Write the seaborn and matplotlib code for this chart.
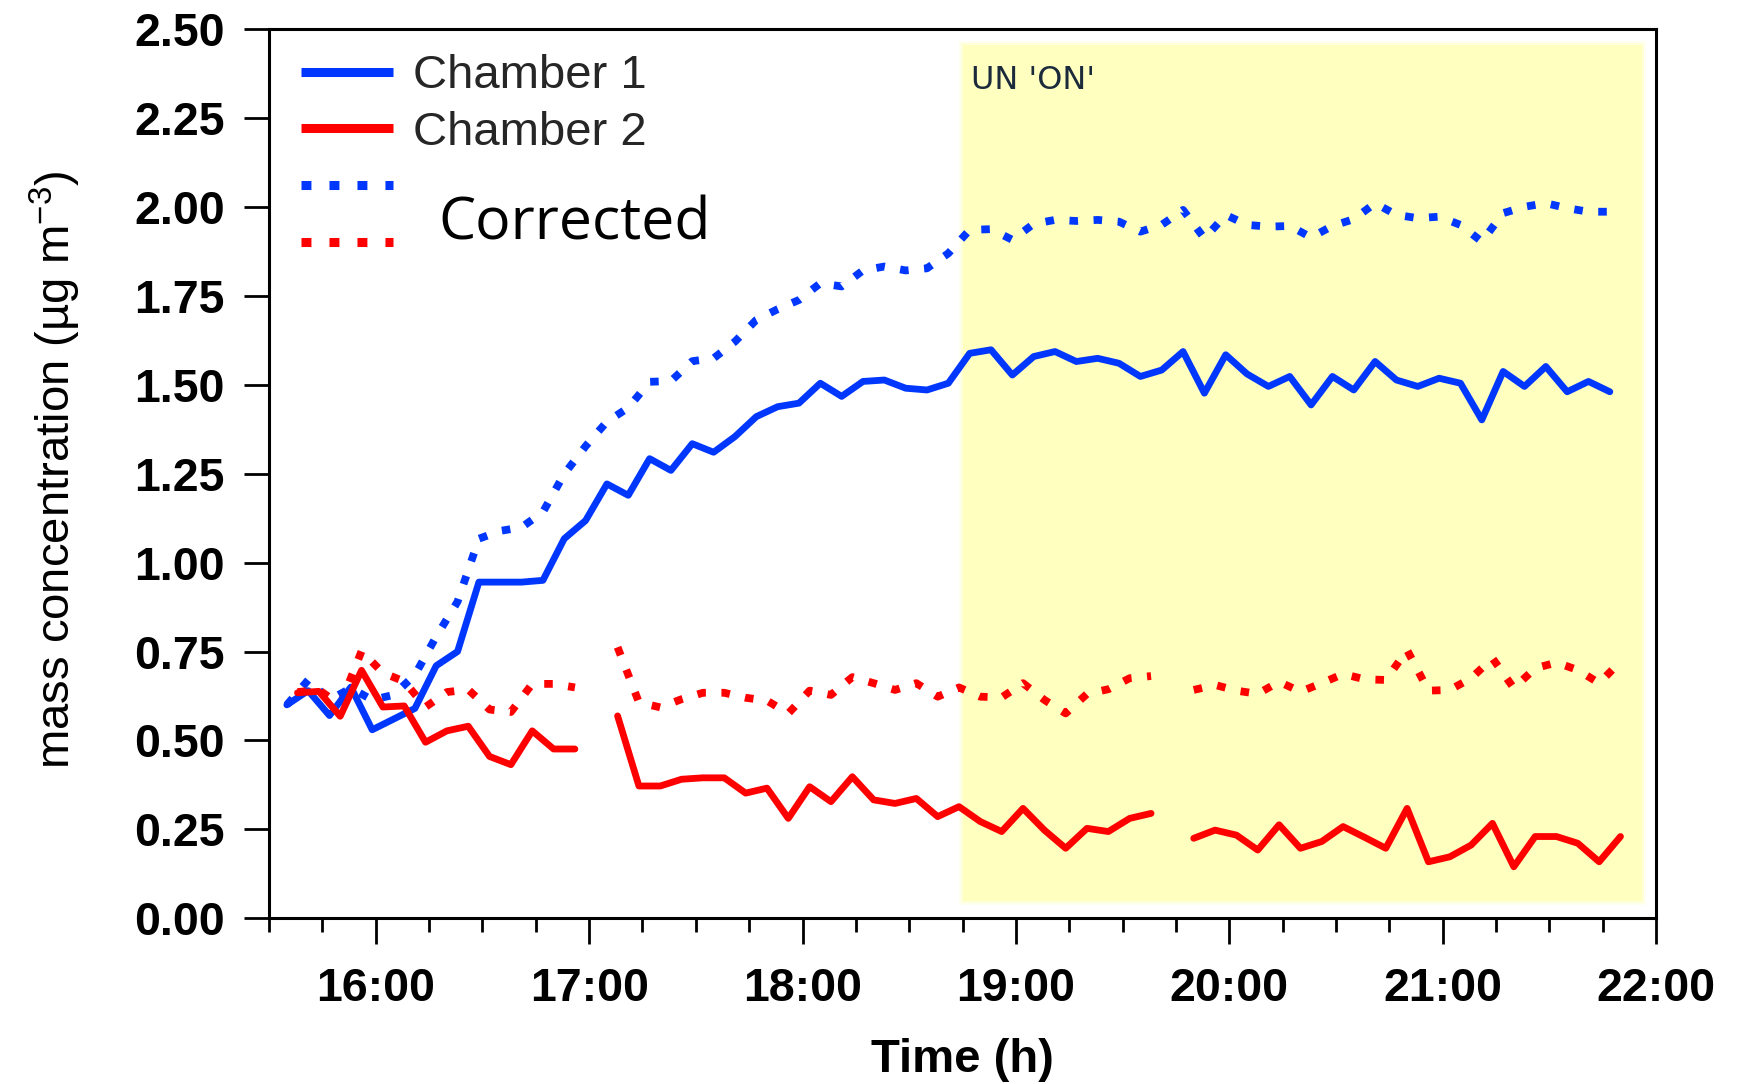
import numpy as np
import pandas as pd
import matplotlib
matplotlib.use("Agg")
import matplotlib.pyplot as plt
from matplotlib.lines import Line2D
from matplotlib.patches import Rectangle
import seaborn as sns

# ---------------------------------------------------------------------------
# Measured PM mass concentration (µg m-3), 6-minute samples
# ---------------------------------------------------------------------------
ch1_time = ["15:35", "15:41", "15:47", "15:53", "15:59", "16:05", "16:11", "16:17", "16:23", "16:29",
            "16:35", "16:41", "16:47", "16:53", "16:59", "17:05", "17:11", "17:17", "17:23", "17:29",
            "17:35", "17:41", "17:47", "17:53", "17:59", "18:05", "18:11", "18:17", "18:23", "18:29",
            "18:35", "18:41", "18:47", "18:53", "18:59", "19:05", "19:11", "19:17", "19:23", "19:29",
            "19:35", "19:41", "19:47", "19:53", "19:59", "20:05", "20:11", "20:17", "20:23", "20:29",
            "20:35", "20:41", "20:47", "20:53", "20:59", "21:05", "21:11", "21:17", "21:23", "21:29",
            "21:35", "21:41", "21:47"]
ch1_raw = [0.60, 0.64, 0.57, 0.65, 0.53, 0.56, 0.59, 0.71, 0.75, 0.945,
           0.945, 0.945, 0.95, 1.067, 1.118, 1.221, 1.189, 1.292, 1.259, 1.334,
           1.31, 1.354, 1.41, 1.438, 1.448, 1.504, 1.467, 1.509, 1.513, 1.49,
           1.485, 1.504, 1.588, 1.598, 1.527, 1.579, 1.593, 1.565, 1.574, 1.56,
           1.523, 1.541, 1.593, 1.476, 1.584, 1.53, 1.495, 1.523, 1.443, 1.523,
           1.485, 1.565, 1.513, 1.495, 1.518, 1.504, 1.401, 1.537, 1.495, 1.551,
           1.48, 1.509, 1.48]
ch1_corr = [0.60, 0.67, 0.614, 0.647, 0.614, 0.628, 0.684, 0.792, 0.89, 1.067,
            1.089, 1.099, 1.142, 1.249, 1.327, 1.396, 1.435, 1.508, 1.51, 1.566,
            1.574, 1.621, 1.682, 1.712, 1.738, 1.785, 1.776, 1.821, 1.832, 1.821,
            1.827, 1.869, 1.935, 1.937, 1.907, 1.952, 1.963, 1.96, 1.963, 1.958,
            1.93, 1.949, 1.991, 1.911, 1.977, 1.949, 1.944, 1.946, 1.914, 1.946,
            1.965, 2.01, 1.977, 1.968, 1.972, 1.949, 1.902, 1.982, 2.0, 2.01,
            1.996, 1.986, 1.986]

ch2_time = ["15:38", "15:44", "15:50", "15:56", "16:02", "16:08", "16:14", "16:20", "16:26", "16:32",
            "16:38", "16:44", "16:50", "16:56", "17:02", "17:08", "17:14", "17:20", "17:26", "17:32",
            "17:38", "17:44", "17:50", "17:56", "18:02", "18:08", "18:14", "18:20", "18:26", "18:32",
            "18:38", "18:44", "18:50", "18:56", "19:02", "19:08", "19:14", "19:20", "19:26", "19:32",
            "19:38", "19:44", "19:50", "19:56", "20:02", "20:08", "20:14", "20:20", "20:26", "20:32",
            "20:38", "20:44", "20:50", "20:56", "21:02", "21:08", "21:14", "21:20", "21:26", "21:32",
            "21:38", "21:44", "21:50"]
nan = np.nan
ch2_raw = [0.634, 0.638, 0.568, 0.697, 0.594, 0.597, 0.495, 0.527, 0.54, 0.455,
           0.432, 0.527, 0.476, 0.476, nan, 0.569, 0.372, 0.372, 0.391, 0.395,
           0.395, 0.352, 0.366, 0.281, 0.37, 0.328, 0.398, 0.333, 0.323, 0.337,
           0.286, 0.314, 0.272, 0.244, 0.309, 0.248, 0.197, 0.253, 0.244, 0.281,
           0.295, nan, 0.225, 0.248, 0.234, 0.192, 0.263, 0.197, 0.216, 0.258,
           0.228, 0.197, 0.309, 0.159, 0.173, 0.206, 0.267, 0.145, 0.23, 0.23,
           0.211, 0.159, 0.23]
ch2_corr = [0.636, 0.642, 0.60, 0.751, 0.69, 0.666, 0.594, 0.636, 0.643, 0.587,
            0.58, 0.659, 0.659, 0.649, nan, 0.762, 0.607, 0.593, 0.616, 0.634,
            0.634, 0.62, 0.612, 0.576, 0.64, 0.628, 0.678, 0.661, 0.642, 0.661,
            0.623, 0.649, 0.623, 0.621, 0.661, 0.614, 0.576, 0.631, 0.644, 0.675,
            0.681, nan, 0.642, 0.656, 0.64, 0.631, 0.665, 0.637, 0.661, 0.687,
            0.672, 0.67, 0.754, 0.64, 0.642, 0.675, 0.731, 0.647, 0.703, 0.719,
            0.698, 0.661, 0.722]

# period with the unit switched on
un_on_window = ("18:45", "21:56")

hour_ticks = [16, 17, 18, 19, 20, 21, 22]
hour_labels = ["16:00", "17:00", "18:00", "19:00", "20:00", "21:00", "22:00"]
conc_ticks = [0.0, 0.25, 0.5, 0.75, 1.0, 1.25, 1.5, 1.75, 2.0, 2.25, 2.5]

BLUE = "#0037FF"
RED = "#FF0000"
SHADE = "#FFFFC0"


def to_hours(clock):
    h, m = clock.split(":")
    return int(h) + int(m) / 60.0


def series_frame(times, values):
    df = pd.DataFrame({"time": [to_hours(t) for t in times], "conc": values})
    # a new segment starts after every missing sample
    df["segment"] = df["conc"].isna().cumsum()
    return df.dropna()


sns.set_theme(style="ticks")
plt.rcParams["font.family"] = ["Liberation Sans", "DejaVu Sans"]
plt.rcParams["mathtext.fontset"] = "custom"
plt.rcParams["mathtext.rm"] = "Liberation Sans"
plt.rcParams["mathtext.it"] = "Liberation Sans"

fig = plt.figure(figsize=(17.37, 10.84), dpi=100)
ax = fig.add_axes([0.1549, 0.1528, 0.7985, 0.8206])
ax.set_facecolor("white")

x0, x1 = 15.5, 22.0
y0, y1 = 0.0, 2.5
ax.set_xlim(x0, x1)
ax.set_ylim(y0, y1)

# shaded "on" period with softened edges
px_x = (x1 - x0) / (0.7985 * 1737)
px_y = (y1 - y0) / (0.8206 * 1084)
s0, s1 = to_hours(un_on_window[0]), to_hours(un_on_window[1])
b0, b1 = 0.05, 2.455
for pad, alpha in [(4, 0.25), (2, 0.45)]:
    ax.add_patch(Rectangle((s0 - pad * px_x, b0 - pad * px_y),
                           (s1 - s0) + 2 * pad * px_x, (b1 - b0) + 2 * pad * px_y,
                           facecolor=SHADE, edgecolor="none", alpha=alpha, zorder=0))
ax.add_patch(Rectangle((s0, b0), s1 - s0, b1 - b0, facecolor=SHADE,
                       edgecolor="none", zorder=0.5))

dot_style = (0, (1.1, 2.0))
c1_raw = series_frame(ch1_time, ch1_raw)
c1_cor = series_frame(ch1_time, ch1_corr)
c2_raw = series_frame(ch2_time, ch2_raw)
c2_cor = series_frame(ch2_time, ch2_corr)

sns.lineplot(data=c1_cor, x="time", y="conc", units="segment", estimator=None,
             color=BLUE, linewidth=5.6, linestyle=dot_style, ax=ax, zorder=3)
sns.lineplot(data=c2_cor, x="time", y="conc", units="segment", estimator=None,
             color=RED, linewidth=5.6, linestyle=dot_style, ax=ax, zorder=3)
sns.lineplot(data=c1_raw, x="time", y="conc", units="segment", estimator=None,
             color=BLUE, linewidth=4.9, ax=ax, zorder=4)
sns.lineplot(data=c2_raw, x="time", y="conc", units="segment", estimator=None,
             color=RED, linewidth=4.9, ax=ax, zorder=5)

# axes, ticks and labels
ax.set_xticks(hour_ticks, labels=hour_labels, fontsize=33.5, fontweight="bold")
ax.set_xticks(np.arange(x0, x1 + 0.01, 0.25), minor=True)
ax.set_yticks(conc_ticks, labels=[f"{v:.2f}" for v in conc_ticks],
              fontsize=33.5, fontweight="bold")
ax.tick_params(axis="y", which="major", direction="out", length=18, width=2.0,
               pad=14, colors="black")
ax.tick_params(axis="x", which="major", direction="out", length=19, width=2.0,
               pad=16, colors="black")
ax.tick_params(axis="x", which="minor", direction="out", length=10, width=2.0,
               colors="black")
ax.tick_params(axis="y", which="minor", length=0)
for side in ["left", "right", "top", "bottom"]:
    ax.spines[side].set_visible(True)
    ax.spines[side].set_linewidth(2.2)
    ax.spines[side].set_color("black")

ax.set_xlabel("Time (h)", fontsize=34, fontweight="bold", color="black")
ax.xaxis.set_label_coords(0.5, -0.135)
ax.set_ylabel("mass concentration (µg m$^{\\mathregular{-3}}$)", fontsize=34,
              color="black")
ax.yaxis.set_label_coords(-0.134, 0.505)

# legend
handles = [
    Line2D([], [], color=BLUE, lw=6.5, solid_capstyle="butt"),
    Line2D([], [], color=RED, lw=6.5, solid_capstyle="butt"),
    Line2D([], [], color=BLUE, lw=6.5, linestyle=(0, (1.1, 2.0))),
    Line2D([], [], color=RED, lw=6.5, linestyle=(0, (1.1, 2.0))),
]
ax.legend(handles, ["Chamber 1", "Chamber 2", " ", " "], loc="upper left",
          bbox_to_anchor=(0.023, 0.9715), frameon=False, fontsize=34,
          handlelength=1.95, handletextpad=0.42, labelspacing=0.27,
          borderpad=0, borderaxespad=0)

fig.text(438 / 1737, 1 - 239 / 1084, "Corrected", fontsize=42.5,
         family=["Open Sans", "DejaVu Sans"], color="black", va="baseline",
         ha="left")
fig.text(970.7 / 1737, 1 - 89.3 / 1084, "UN 'ON'", fontsize=23,
         family=["DejaVu Sans"], color="#1c2b3c", va="baseline", ha="left")

fig.savefig("out.png", dpi=100)
